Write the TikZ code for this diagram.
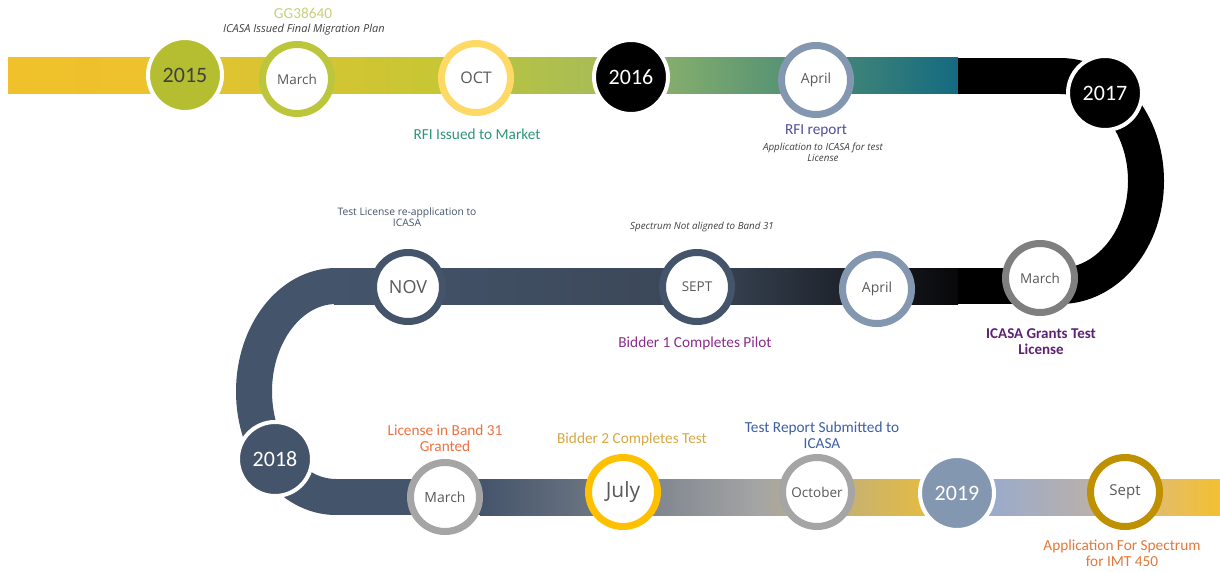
\documentclass[tikz,border=0pt]{standalone}
\usepackage{fontspec}
\setmainfont{Carlito}
\newfontfamily\osans{Open Sans}
\definecolor{slate}{HTML}{44546A}
\definecolor{monthgray}{HTML}{595959}
\definecolor{notegray}{HTML}{404040}
\definecolor{olivey}{HTML}{B5BD30}
\definecolor{ringolive}{HTML}{BCC63D}
\definecolor{ringyellow}{HTML}{FFD966}
\definecolor{bluegray}{HTML}{8497B0}
\definecolor{midgray}{HTML}{7F7F7F}
\definecolor{lightgray}{HTML}{A5A5A5}
\definecolor{gold}{HTML}{FFC000}
\definecolor{darkgold}{HTML}{BF9000}
\begin{document}
\begin{tikzpicture}[x=1pt,y=-1pt,
  yearc/.style={circle,minimum size=74pt,inner sep=0pt,draw=white,line width=4pt,text=white,font=\fontsize{22}{22}\selectfont},
  ringc/.style={circle,minimum size=69pt,inner sep=0pt,fill=white,line width=7pt,text=monthgray,font=\osans\fontsize{13.5}{13.5}\selectfont},
  note/.style={font=\osans\itshape\fontsize{9.8}{11}\selectfont,text=notegray,align=center,inner sep=0pt},
  lbl/.style={font=\fontsize{15.3}{15.8}\selectfont,align=center,inner sep=0pt},
  band/.style={line width=36pt}]
\useasboundingbox[fill=white] (0,0) rectangle (1220,572);

% ---------- top band ----------
\shade[left color={rgb,255:red,240;green,193;blue,42}, right color={rgb,255:red,236;green,194;blue,46}] (8,58) rectangle (186,94);
\shade[left color={rgb,255:red,228;green,194;blue,48}, right color={rgb,255:red,194;green,199;blue,53}] (185,58) rectangle (477,94);
\shade[left color={rgb,255:red,186;green,196;blue,64}, right color={rgb,255:red,163;green,186;blue,92}] (476,58) rectangle (632,94);
\shade[left color={rgb,255:red,146;green,182;blue,106}, right color={rgb,255:red,20;green,106;blue,128}] (631,58) rectangle (958,94);
\fill[black] (957.5,58) rectangle (1061,94);
\draw[band,black] (1060,76) arc[start angle=-90,end angle=90,x radius=86,y radius=105];

% ---------- middle band ----------
\fill[black] (957.5,268) rectangle (1061,304);
\shade[left color=slate, right color={rgb,255:red,59;green,71;blue,88}] (334,268) rectangle (698,304);
\shade[left color={rgb,255:red,59;green,71;blue,88}, right color={rgb,255:red,8;green,8;blue,10}] (697,268) rectangle (958,304);
\draw[band,slate] (336,286) arc[start angle=270,end angle=90,x radius=82,y radius=105.5];

% ---------- bottom band ----------
\fill[slate] (334,479) rectangle (481,515);
\shade[left color=slate, right color=lightgray] (480,479) rectangle (760,515);
\shade[left color=lightgray, right color={rgb,255:red,240;green,192;blue,48}] (759,479) rectangle (958,515);
\shade[left color={rgb,255:red,143;green,169;blue,214}, right color={rgb,255:red,196;green,178;blue,160}] (957,479) rectangle (1126,515);
\shade[left color={rgb,255:red,220;green,186;blue,136}, right color={rgb,255:red,242;green,192;blue,48}] (1125,479) rectangle (1220,515);

% ---------- circles ----------
\node[yearc,fill=olivey,text=notegray] (y15) at (185,75) {2015};
\node[ringc,draw=ringolive] (mar15) at (297,79) {March};
\node[ringc,draw=ringyellow,font=\osans\fontsize{16}{16}\selectfont] (oct15) at (476,78) {OCT};
\node[yearc,fill=black] (y16) at (631,77) {2016};
\node[ringc,draw=bluegray,font=\osans\fontsize{14}{14}\selectfont] (apr16) at (816,80) {April};
\node[yearc,fill=black] (y17) at (1105,93) {2017};
\node[ringc,draw=midgray] (mar17) at (1040,278) {March};
\node[ringc,draw=bluegray,font=\osans\fontsize{14}{14}\selectfont] (apr17) at (877,289) {April};
\node[ringc,draw=slate] (sep17) at (697,287) {SEPT};
\node[ringc,draw=slate,font=\osans\fontsize{18}{18}\selectfont] (nov17) at (408,287) {NOV};
\node[yearc,fill=slate] (y18) at (275,459) {2018};
\node[ringc,draw=lightgray,font=\osans\fontsize{14}{14}\selectfont] (mar18) at (445,497) {March};
\node[ringc,draw=gold,font=\osans\fontsize{21}{21}\selectfont] (jul18) at (623,492) {July};
\node[ringc,draw=lightgray] (oct18) at (817,492) {October};
\node[yearc,fill=bluegray] (y19) at (957,493) {2019};
\node[ringc,draw=darkgold,font=\osans\fontsize{15}{15}\selectfont] (sep19) at (1125,492) {Sept};

% ---------- texts ----------
\node[lbl,text={rgb,255:red,200;green,208;blue,122}] (gg) at (303,13) {GG38640};
\node[note,font=\osans\itshape\fontsize{11}{12}\selectfont] (n1) at (304,30) {ICASA Issued Final Migration Plan};
\node[lbl,text={rgb,255:red,47;green,149;blue,122}] (l1) at (477,134) {RFI Issued to Market};
\node[lbl,text={rgb,255:red,81;green,78;blue,156}] (l2) at (816,131) {RFI report};
\node[note] (n2) at (823,152) {Application to ICASA for test\\License};
\node[note,font=\osans\fontsize{10.3}{11.5}\selectfont,text=slate] (n3) at (407,217) {Test License re-application to\\ICASA};
\node[note] (n4) at (702,227) {Spectrum Not aligned to Band 31};
\node[lbl,text={rgb,255:red,139;green,45;blue,139}] (l3) at (695,343) {Bidder 1 Completes Pilot};
\node[lbl,font=\bfseries\fontsize{15}{16}\selectfont,text={rgb,255:red,94;green,34;blue,117}] (l4) at (1041,342) {ICASA Grants Test\\License};
\node[lbl,text={rgb,255:red,238;green,114;blue,64}] (l5) at (445,438) {License in Band 31\\Granted};
\node[lbl,text={rgb,255:red,214;green,168;blue,67}] (l6) at (632,439) {Bidder 2 Completes Test};
\node[lbl,text={rgb,255:red,61;green,95;blue,165}] (l7) at (822,435) {Test Report Submitted to\\ICASA};
\node[lbl,text={rgb,255:red,226;green,121;blue,58}] (l8) at (1122,553) {Application For Spectrum\\for IMT 450};
\end{tikzpicture}
\end{document}
